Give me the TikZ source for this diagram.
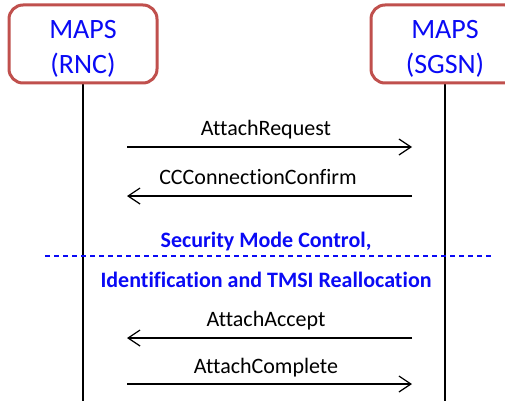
\documentclass[tikz,border=0pt]{standalone}
\usepackage{fontspec}
\setmainfont{Carlito}[Ligatures=NoCommon]
\usetikzlibrary{arrows.meta}
\definecolor{boxred}{RGB}{192,80,77}
\definecolor{txtblue}{RGB}{10,10,245}
\tikzset{
  entity/.style={draw=boxred, line width=3pt, rounded corners=14pt, fill=white,
    minimum width=148pt, minimum height=78pt},
  entitytext/.style={align=center, text=txtblue, font=\fontsize{28}{35}\selectfont},
  lifeline/.style={line width=2pt},
  msg/.style={-{Straight Barb[length=12pt,width=16pt]}, line width=1.2pt},
  msglabel/.style={font=\fontsize{22}{25}\selectfont},
  phase/.style={text=txtblue, font=\bfseries\fontsize{22}{26}\selectfont},
  divider/.style={draw=txtblue, line width=1.3pt, dash pattern=on 5pt off 4pt}
}

\begin{document}
\begin{tikzpicture}[x=1pt, y=-1pt]
		%%%%% START %%%%%
		\useasboundingbox (0, 0) rectangle (505, 401);
		\clip (0, 0) rectangle (505, 401);
		
		% lifelines
		\draw[lifeline] (83, 80) -- (83, 401);
		\draw[lifeline] (445, 80) -- (445, 401);
		
		\node[entity] (rnc) at (83, 44) {};
		\node[entitytext] (rnctext) at (83, 49) {MAPS\\(RNC)};
		\node[entity] (sgsn) at (445, 44) {};
		\node[entitytext] (sgsntext) at (445, 49) {MAPS\\(SGSN)};
		
		% end points of the messages
		\coordinate (req-a) at (127, 147);
		\coordinate (req-b) at (412, 147);
		\coordinate (cc-a) at (412, 196);
		\coordinate (cc-b) at (127, 196);
		\coordinate (acc-a) at (412, 338);
		\coordinate (acc-b) at (127, 338);
		\coordinate (cmp-a) at (127, 384);
		\coordinate (cmp-b) at (412, 384);
		
		\draw[msg] (req-a) -- (req-b);
		\node[msglabel] (reqlabel) at (266, 130) {AttachRequest};
		
		\draw[msg] (cc-a) -- (cc-b);
		\node[msglabel] (cclabel) at (258, 177) {CCConnectionConfirm};
		
		% security phase
		\coordinate (div-a) at (45, 256);
		\coordinate (div-b) at (494, 256);
		\draw[divider] (div-a) -- (div-b);
		\node[phase] (phase1) at (266, 242) {Security Mode Control,};
		\node[phase] (phase2) at (266, 280) {Identification and TMSI Reallocation};
		
		\draw[msg] (acc-a) -- (acc-b);
		\node[msglabel] (acclabel) at (266, 321) {AttachAccept};
		
		\draw[msg] (cmp-a) -- (cmp-b);
		\node[msglabel] (cmplabel) at (266, 368) {AttachComplete};
		%%%%% END %%%%%
	\end{tikzpicture}
\end{document}
